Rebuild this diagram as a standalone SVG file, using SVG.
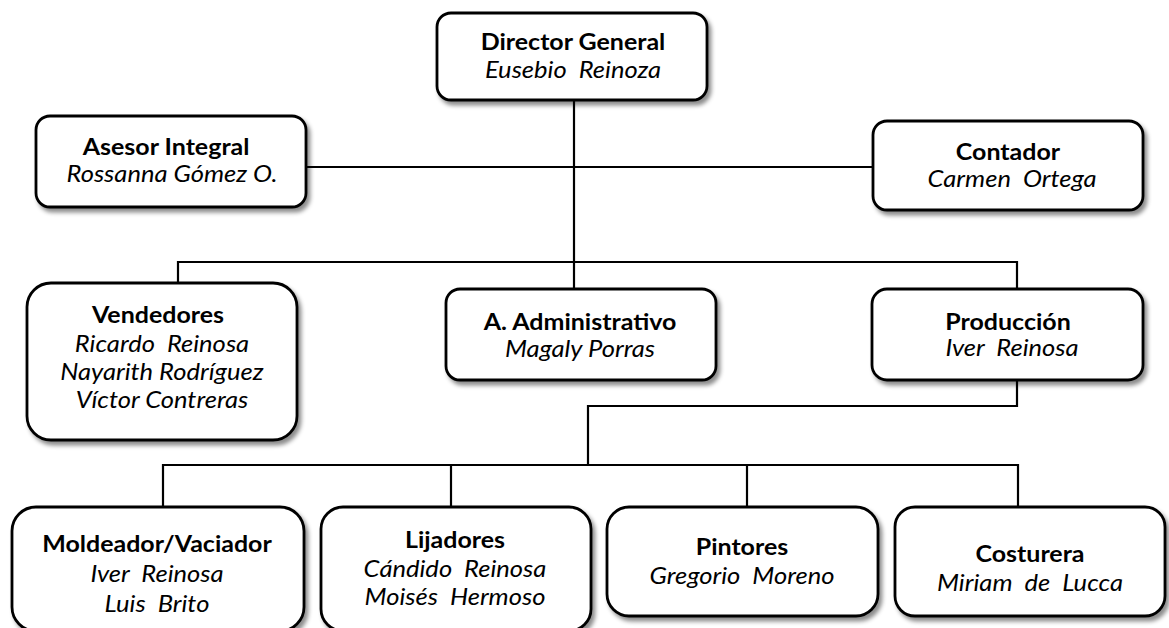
<svg xmlns="http://www.w3.org/2000/svg" width="1169" height="628" viewBox="0 0 1169 628" xml:space="preserve">
  <defs>
    <filter id="shadow" x="-10%" y="-10%" width="125%" height="130%">
      <feDropShadow dx="3" dy="4" stdDeviation="2.2" flood-color="#000" flood-opacity="0.45"/>
    </filter>
    <style>
      .box { fill: #fff; stroke: #000; stroke-width: 2.8; filter: url(#shadow); }
      .ln { fill: none; stroke: #000; stroke-width: 2.2; }
      text { font-family: Lato, "Liberation Sans", sans-serif; font-size: 22px; fill: #000; text-anchor: middle; white-space: pre;
             transform-box: fill-box; transform-origin: center; transform: scaleX(1.136); }
      .t { font-weight: bold; }
      .n { font-style: italic; font-size: 22.5px; }
    </style>
  </defs>
  <rect width="1169" height="628" fill="#fff"/>

  <!-- connectors -->
  <g id="connectors">
    <path class="ln" d="M574 100 V262"/>
    <path class="ln" d="M306 167 H873"/>
    <path class="ln" d="M178 283 V262 H1017 V289"/>
    <path class="ln" d="M574 262 V289"/>
    <path class="ln" d="M1017 380 V406 H588 V465"/>
    <path class="ln" d="M163 507 V465 H1018 V507"/>
    <path class="ln" d="M451 465 V507"/>
    <path class="ln" d="M747 465 V507"/>
  </g>

  <g id="director">
    <rect class="box" x="437" y="13" width="270" height="87" rx="14"/>
    <text class="t" x="573" y="50">Director General</text>
    <text class="n" x="573" y="78">Eusebio  Reinoza</text>
  </g>

  <g id="asesor">
    <rect class="box" x="36" y="116" width="270" height="91" rx="14"/>
    <text class="t" x="166" y="155">Asesor Integral</text>
    <text class="n" x="172" y="182">Rossanna Gómez O.</text>
  </g>

  <g id="contador">
    <rect class="box" x="873" y="121" width="270" height="89" rx="14"/>
    <text class="t" x="1008" y="160">Contador</text>
    <text class="n" x="1012" y="187">Carmen  Ortega</text>
  </g>

  <g id="vendedores">
    <rect class="box" x="27" y="283" width="270" height="157" rx="24"/>
    <text class="t" x="158" y="323">Vendedores</text>
    <text class="n" x="162" y="352">Ricardo  Reinosa</text>
    <text class="n" x="162" y="380">Nayarith Rodríguez</text>
    <text class="n" x="162" y="408">Víctor Contreras</text>
  </g>

  <g id="administrativo">
    <rect class="box" x="446" y="289" width="270" height="91" rx="14"/>
    <text class="t" x="580" y="330">A. Administrativo</text>
    <text class="n" x="580" y="357">Magaly Porras</text>
  </g>

  <g id="produccion">
    <rect class="box" x="872" y="289" width="271" height="91" rx="15"/>
    <text class="t" x="1008" y="330">Producción</text>
    <text class="n" x="1012" y="356">Iver  Reinosa</text>
  </g>

  <g id="moldeador">
    <rect class="box" x="12" y="507" width="292" height="124" rx="24"/>
    <text class="t" x="157" y="552">Moldeador/Vaciador</text>
    <text class="n" x="157" y="582">Iver  Reinosa</text>
    <text class="n" x="157" y="612">Luis  Brito</text>
  </g>

  <g id="lijadores">
    <rect class="box" x="321" y="507" width="270" height="124" rx="22"/>
    <text class="t" x="455" y="548">Lijadores</text>
    <text class="n" x="455" y="577">Cándido  Reinosa</text>
    <text class="n" x="455" y="605">Moisés  Hermoso</text>
  </g>

  <g id="pintores">
    <rect class="box" x="607" y="507" width="271" height="109" rx="22"/>
    <text class="t" x="742" y="555">Pintores</text>
    <text class="n" x="742" y="584">Gregorio  Moreno</text>
  </g>

  <g id="costurera">
    <rect class="box" x="895" y="507" width="270" height="109" rx="20"/>
    <text class="t" x="1030" y="562">Costurera</text>
    <text class="n" x="1030" y="591">Miriam  de  Lucca</text>
  </g>
</svg>
